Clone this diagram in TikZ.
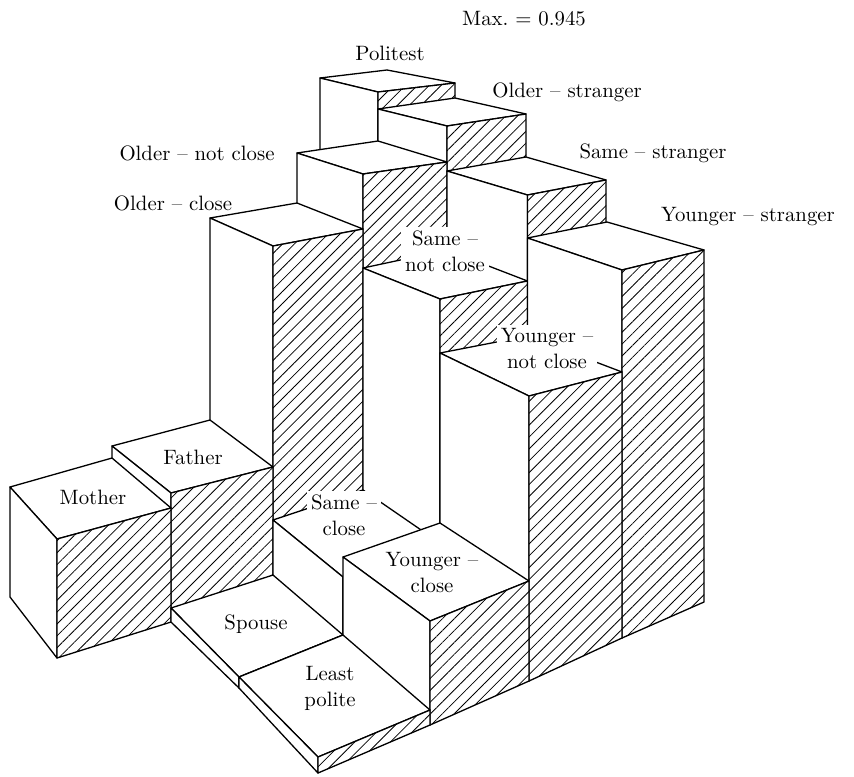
\documentclass[tikz,border=0pt]{standalone}
\usepackage{tikz}
\usetikzlibrary{
    patterns.meta
}
\frenchspacing
\tikzstyle{edge} = [
    draw=black,
    line width=0.65pt,
    line join=round
]
\tikzstyle{plain} = [
    edge,
    fill=white
]
\tikzstyle{hatched} = [
    edge,
    preaction={fill=white},
    pattern={Lines[angle=45,distance=4.2pt,line width=0.4pt]}
]
\tikzstyle{lbl} = [
    font=\fontsize{10.4}{13}\selectfont,
    align=center,
    inner sep=1pt
]
\tikzstyle{lblw} = [
    lbl,
    fill=white,
    inner sep=2pt
]
% bar: top left, top back, top right, top front, floor left, floor front, floor right
\newcommand{\polbar}[7]{%
    \draw[plain] #1 -- #2 -- #3 -- #4 -- cycle;
    \draw[plain] #1 -- #4 -- #6 -- #5 -- cycle;
    \draw[hatched] #4 -- #3 -- #7 -- #6 -- cycle;
}

\begin{document}
\begin{tikzpicture}[x=0.5pt, y=-0.5pt]
    \useasboundingbox (0,0) rectangle (854,776);

    % Back bars
    \polbar{(320,78)}{(387,70)}{(455,83)}{(378,92)}{(320,475)}{(378,500)}{(455,480)}
    \polbar{(378,109)}{(455,98)}{(526,114)}{(447,126)}{(378,500)}{(447,533)}{(526,508)}
    \polbar{(297,153)}{(378,141)}{(447,162)}{(363,174)}{(297,521)}{(363,560)}{(447,533)}
    \polbar{(447,171)}{(526,157)}{(606,180)}{(527.5,195)}{(447,533)}{(527.5,580)}{(606,550)}
    \polbar{(210,218)}{(297,203)}{(363,229)}{(273,246)}{(210,544)}{(273,589)}{(363,560)}
    \polbar{(363,268)}{(447,250)}{(527.5,281)}{(440,299)}{(363,560)}{(440,613)}{(527.5,580)}

    % Middle bars
    \polbar{(112,446)}{(210,420)}{(273,467)}{(171,493)}{(112,570)}{(171,622)}{(273,589)}
    \polbar{(527.5,238)}{(607,222)}{(704,250)}{(622,270)}{(527.5,580)}{(622,638)}{(704,602)}
    \polbar{(273,520)}{(363,490)}{(440,543)}{(343,577)}{(273,589)}{(343,649)}{(440,613)}
    \polbar{(10,487)}{(112,458)}{(171,508)}{(57,539)}{(10,597)}{(57,658)}{(171,622)}
    \polbar{(440,353)}{(527.5,336)}{(622,372)}{(529,396)}{(440,613)}{(529,681)}{(622,638)}

    % Front bars
    \polbar{(171,608)}{(273,575)}{(343,635)}{(239,677)}{(171,622)}{(239,688)}{(343,649)}
    \polbar{(343,557)}{(440,523)}{(529,581)}{(430,621)}{(343,649)}{(430,725)}{(529,681)}
    \polbar{(239,677)}{(343,635)}{(430,710)}{(318,757)}{(239,688)}{(318,773)}{(430,725)}

    % Labels
    \node[lbl] (max) at (524,19) {Max. = 0.945};
    \node[lbl] (politest) at (390,53) {Politest};
    \node[lbl] (oldstr) at (567,92) {Older -- stranger};
    \node[lbl] (samestr) at (653,153) {Same -- stranger};
    \node[lbl] (youngstr) at (748,217) {Younger -- stranger};
    \node[lbl] (oldnot) at (197,153) {Older -- not close};
    \node[lbl] (oldclose) at (173,203) {Older -- close};
    \node[lblw] (samenot) at (445,251) {Same --\\not close};
    \node[lblw] (youngnot) at (547,349) {Younger --\\not close};
    \node[lblw] (sameclose) at (344,515) {Same --\\close};
    \node[lbl] (youngclose) at (432,572) {Younger --\\close};
    \node[lbl] (mother) at (93,497) {Mother};
    \node[lbl] (father) at (193,457) {Father};
    \node[lbl] (spouse) at (256,624) {Spouse};
    \node[lbl] (least) at (330,688) {Least\\polite};
\end{tikzpicture}
\end{document}
